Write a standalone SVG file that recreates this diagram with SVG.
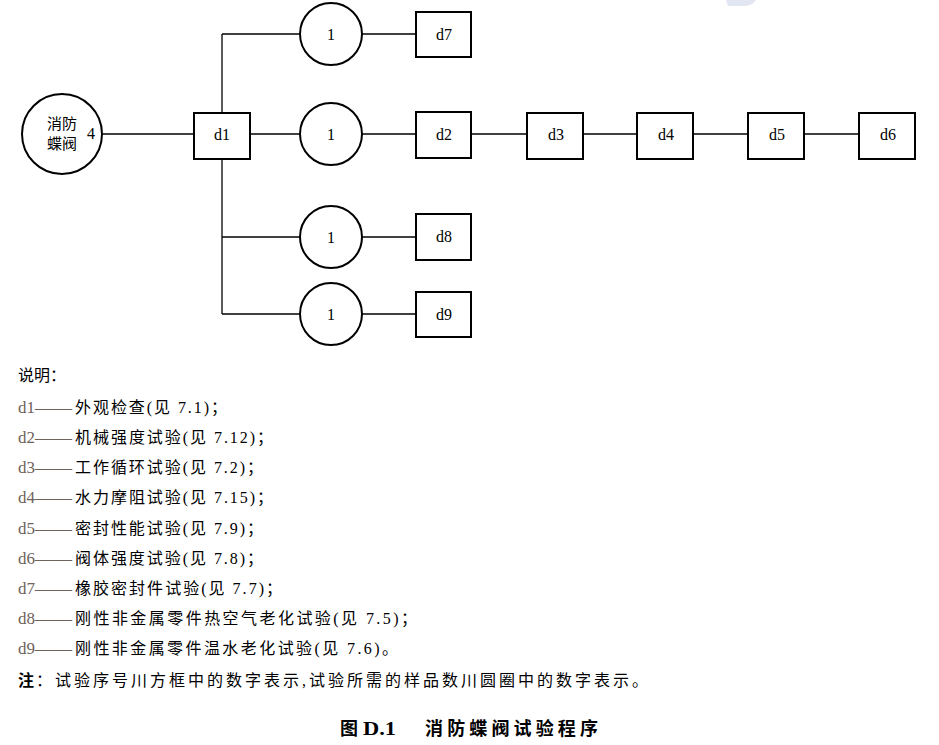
<svg xmlns="http://www.w3.org/2000/svg" width="939" height="745" viewBox="0 0 939 745">
<style>
.ln{stroke:#000;stroke-width:1.3;fill:none}
.bx{fill:#fff;stroke:#000;stroke-width:2}
.ci{fill:#fff;stroke:#000;stroke-width:2}
.nt{font-family:"Liberation Serif","Noto Sans CJK SC",serif;font-size:16px;fill:#000;text-anchor:middle}
.lg{font-family:"Liberation Serif","Noto Sans CJK SC",serif;font-size:16px;fill:#000}
.dl{font-family:"Liberation Serif",serif;font-size:17px;fill:#6e625a}
.bd{font-weight:bold}
</style>
<rect width="939" height="745" fill="#fff"/>
<path d="M726,0 L756,0 Q752,6 744,6 L728,6 Z" fill="#e1e6f2"/>
<g id="connectors">
<line class="ln" x1="103" y1="134" x2="194" y2="134"/>
<line class="ln" x1="250" y1="134" x2="300" y2="134"/>
<line class="ln" x1="222" y1="34" x2="222" y2="113"/>
<line class="ln" x1="222" y1="159" x2="222" y2="314"/>
<line class="ln" x1="222" y1="34" x2="300" y2="34"/>
<line class="ln" x1="222" y1="237" x2="300" y2="237"/>
<line class="ln" x1="222" y1="314" x2="300" y2="314"/>
<line class="ln" x1="362" y1="34" x2="416" y2="34"/>
<line class="ln" x1="362" y1="134" x2="416" y2="134"/>
<line class="ln" x1="362" y1="237" x2="416" y2="237"/>
<line class="ln" x1="362" y1="314" x2="416" y2="314"/>
<line class="ln" x1="471" y1="134" x2="527" y2="134"/>
<line class="ln" x1="583" y1="134" x2="637" y2="134"/>
<line class="ln" x1="693" y1="134" x2="748" y2="134"/>
<line class="ln" x1="804" y1="134" x2="859" y2="134"/>
</g>
<g id="valve">
<circle class="ci" cx="62" cy="134" r="40"/>
<text class="nt" x="62" y="129" style="font-size:15px">消防</text>
<text class="nt" x="62" y="149" style="font-size:15px">蝶阀</text>
<text class="nt" x="91" y="139">4</text>
</g>
<g id="d1"><rect class="bx" x="194" y="113" width="56" height="46"/><text class="nt" x="222" y="140">d1</text></g>
<g id="c7"><circle class="ci" cx="331" cy="34" r="31"/><text class="nt" x="331" y="40">1</text></g>
<g id="c2"><circle class="ci" cx="331" cy="134" r="31"/><text class="nt" x="331" y="140">1</text></g>
<g id="c8"><circle class="ci" cx="331" cy="237" r="31"/><text class="nt" x="331" y="243">1</text></g>
<g id="c9"><circle class="ci" cx="331" cy="314" r="31"/><text class="nt" x="331" y="320">1</text></g>
<g id="d7"><rect class="bx" x="416" y="12" width="55" height="45"/><text class="nt" x="444" y="40">d7</text></g>
<g id="d2"><rect class="bx" x="416" y="112" width="55" height="46"/><text class="nt" x="444" y="140">d2</text></g>
<g id="d3"><rect class="bx" x="527" y="113" width="56" height="46"/><text class="nt" x="556" y="140">d3</text></g>
<g id="d4"><rect class="bx" x="637" y="113" width="56" height="46"/><text class="nt" x="666" y="140">d4</text></g>
<g id="d5"><rect class="bx" x="748" y="113" width="56" height="46"/><text class="nt" x="777" y="140">d5</text></g>
<g id="d6"><rect class="bx" x="859" y="113" width="56" height="46"/><text class="nt" x="888" y="140">d6</text></g>
<g id="d8"><rect class="bx" x="416" y="214" width="55" height="46"/><text class="nt" x="444" y="242">d8</text></g>
<g id="d9"><rect class="bx" x="416" y="292" width="55" height="45"/><text class="nt" x="444" y="320">d9</text></g>
<g id="legend">
<text class="lg" x="18" y="381" textLength="48" lengthAdjust="spacing">说明：</text>
<text class="dl" x="18" y="413">d1</text><text class="dl" x="35" y="413" textLength="37" lengthAdjust="spacingAndGlyphs">——</text><text class="lg" x="75" y="413" textLength="152" lengthAdjust="spacing">外观检查(见 7.1)；</text>
<text class="dl" x="18" y="443">d2</text><text class="dl" x="35" y="443" textLength="37" lengthAdjust="spacingAndGlyphs">——</text><text class="lg" x="75" y="443" textLength="198" lengthAdjust="spacing">机械强度试验(见 7.12)；</text>
<text class="dl" x="18" y="473">d3</text><text class="dl" x="35" y="473" textLength="37" lengthAdjust="spacingAndGlyphs">——</text><text class="lg" x="75" y="473" textLength="188" lengthAdjust="spacing">工作循环试验(见 7.2)；</text>
<text class="dl" x="18" y="503">d4</text><text class="dl" x="35" y="503" textLength="37" lengthAdjust="spacingAndGlyphs">——</text><text class="lg" x="75" y="503" textLength="198" lengthAdjust="spacing">水力摩阻试验(见 7.15)；</text>
<text class="dl" x="18" y="534">d5</text><text class="dl" x="35" y="534" textLength="37" lengthAdjust="spacingAndGlyphs">——</text><text class="lg" x="75" y="534" textLength="188" lengthAdjust="spacing">密封性能试验(见 7.9)；</text>
<text class="dl" x="18" y="564">d6</text><text class="dl" x="35" y="564" textLength="37" lengthAdjust="spacingAndGlyphs">——</text><text class="lg" x="75" y="564" textLength="188" lengthAdjust="spacing">阀体强度试验(见 7.8)；</text>
<text class="dl" x="18" y="594">d7</text><text class="dl" x="35" y="594" textLength="37" lengthAdjust="spacingAndGlyphs">——</text><text class="lg" x="75" y="594" textLength="207" lengthAdjust="spacing">橡胶密封件试验(见 7.7)；</text>
<text class="dl" x="18" y="624">d8</text><text class="dl" x="35" y="624" textLength="37" lengthAdjust="spacingAndGlyphs">——</text><text class="lg" x="75" y="624" textLength="342" lengthAdjust="spacing">刚性非金属零件热空气老化试验(见 7.5)；</text>
<text class="dl" x="18" y="654">d9</text><text class="dl" x="35" y="654" textLength="37" lengthAdjust="spacingAndGlyphs">——</text><text class="lg" x="75" y="654" textLength="323" lengthAdjust="spacing">刚性非金属零件温水老化试验(见 7.6)。</text>
<text class="lg bd" x="18" y="686">注</text>
<text class="lg" x="36" y="686" textLength="612" lengthAdjust="spacing">：试验序号川方框中的数字表示,试验所需的样品数川圆圈中的数字表示。</text>
<text class="lg bd" x="340" y="735" style="font-size:18px">图</text>
<text class="lg bd" x="363" y="735" style="font-size:18px" textLength="33" lengthAdjust="spacingAndGlyphs">D.1</text>
<text class="lg bd" x="425" y="735" style="font-size:18px" textLength="173" lengthAdjust="spacing">消防蝶阀试验程序</text>
</g>
</svg>
